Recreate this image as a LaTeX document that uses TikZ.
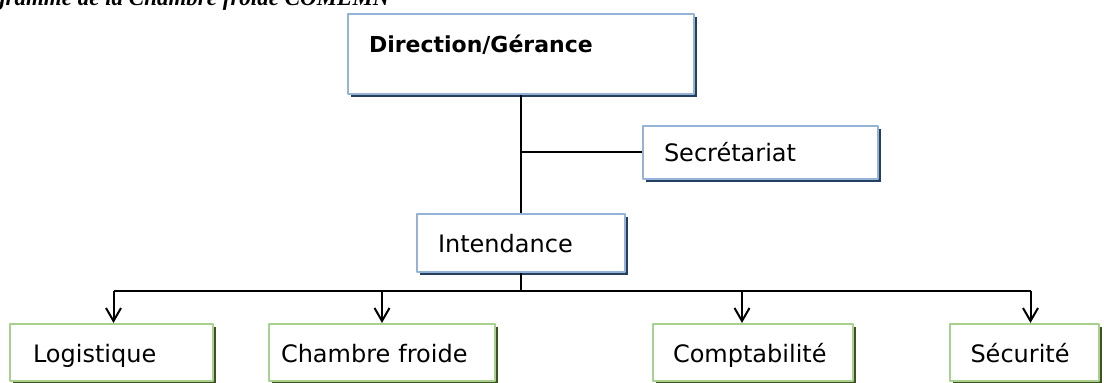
\documentclass[tikz,border=0pt]{standalone}
\usepackage{fontspec}
\setmainfont{DejaVu Sans}
\newfontfamily\titrefont{Liberation Serif}
\usetikzlibrary{arrows.meta, shadows}

\definecolor{bordbleu}{HTML}{95B3D7}
\definecolor{ombrebleu}{HTML}{243F60}
\definecolor{bordvert}{HTML}{A9D18E}
\definecolor{ombrevert}{HTML}{3F5220}

\tikzset{
  poste/.style={draw=bordbleu, line width=1pt, fill=white, anchor=north west,
    align=left, inner ysep=0pt, font=\fontsize{12}{14}\selectfont,
    text height=10.5pt, text depth=1pt,
    drop shadow={shadow xshift=1.6pt, shadow yshift=-1.6pt, fill=ombrebleu, opacity=1}},
  service/.style={poste, draw=bordvert, minimum height=28.5pt,
    text height=11pt, text depth=0.5pt,
    drop shadow={shadow xshift=1.4pt, shadow yshift=-1.4pt, fill=ombrevert, opacity=1}},
  lien/.style={line width=1pt, black},
  fleche/.style={lien, -{Straight Barb[length=6.5pt, width=7.5pt, line width=1pt]}}
}

\begin{document}
\begin{tikzpicture}[x=0.5pt, y=-0.5pt, line join=round]

\useasboundingbox (0,0) rectangle (1104,383);
\fill[white] (0,0) rectangle (1104,383);
\clip (0,0) rectangle (1104,383);

% titre coupe en haut
\node[anchor=base east, inner sep=0pt, font=\titrefont\bfseries\itshape\fontsize{11.5}{14}\selectfont]
  (titre) at (390,6) {Organigramme de la Chambre froide COMEMN};

% Direction
\node[poste, text width=152pt, inner xsep=10.5pt, text height=19.5pt, text depth=20.5pt,
  font=\bfseries\fontsize{11}{13}\selectfont] (dir) at (347,13) {Direction/Gérance};
\node[poste, text width=96.5pt, inner xsep=10.5pt, minimum height=26.5pt] (sec) at (642,125) {Secrétariat};
\node[poste, text width=83pt, inner xsep=10.5pt, minimum height=29pt] (int) at (416,213) {Intendance};

% services
\node[service, text width=78.5pt, inner xsep=11.5pt] (log) at (9,323) {Logistique};
\node[service, text width=101pt, inner xsep=6pt] (cha) at (268,323) {Chambre froide};
\node[service, text width=80pt, inner xsep=10pt] (com) at (652,323) {Comptabilité};
\node[service, text width=54pt, inner xsep=10.25pt] (secu) at (949,323) {Sécurité};

% liaisons
\coordinate (bus) at (int.south |- 0,291);
\draw[lien] (dir.south) -- (dir.south |- int.north);
\draw[lien] (dir.south |- sec.west) -- (sec.west);
\draw[lien] (int.south) -- (bus);
\draw[lien] ([xshift=1pt]log.north |- bus) -- ([xshift=3pt]secu.north |- bus);

\draw[fleche] ([xshift=1pt]log.north |- bus) -- ([xshift=1pt]log.north);
\draw[fleche] (cha.north |- bus) -- (cha.north);
\draw[fleche] ([xshift=-5.5pt]com.north |- bus) -- ([xshift=-5.5pt]com.north);
\draw[fleche] ([xshift=3pt]secu.north |- bus) -- ([xshift=3pt]secu.north);

\end{tikzpicture}
\end{document}
